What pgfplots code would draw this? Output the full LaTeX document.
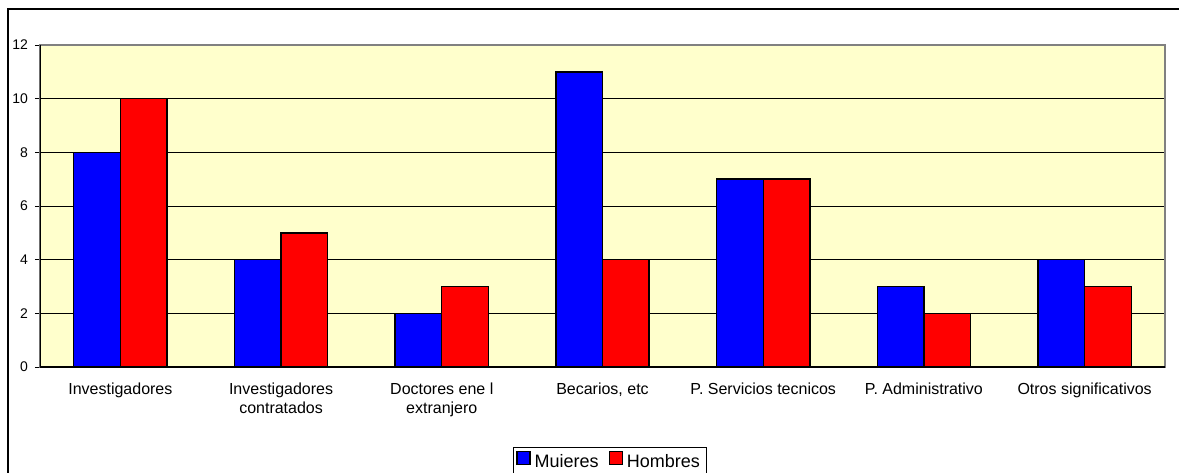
\documentclass[border=0pt]{standalone}
\usepackage{fontspec}
\setmainfont{Liberation Sans}
\usepackage{pgfplots}
\pgfplotsset{compat=1.18}
\definecolor{plotbg}{HTML}{FFFFCC}
\definecolor{barblue}{HTML}{0000FF}
\definecolor{barred}{HTML}{FF0000}
\begin{document}
\begin{tikzpicture}
\useasboundingbox (0pt,0pt) rectangle (589.5pt,236pt);
\draw[line width=0.7pt] (4pt,-10pt) -- (4pt,231.5pt) -- (600pt,231.5pt);
\begin{axis}[
    at={(20pt,52.5pt)}, anchor=south west,
    scale only axis,
    width=562.5pt, height=161pt,
    ybar=0pt,
    bar width=0.29,
    xmin=-0.5, xmax=6.5,
    ymin=0, ymax=12,
    ytick={0,2,...,12},
    xtick={0,...,6},
    xticklabels={Investigadores,Investigadores\\contratados,Doctores ene l\\extranjero,{Becarios, etc},P. Servicios tecnicos,P. Administrativo,Otros significativos},
    minor xtick={-0.5,0.5,...,6.5},
    xtick pos=bottom, ytick pos=left,
    tick align=outside,
    xtick style={draw=none},
    minor tick length=2pt,
    major tick length=2.5pt,
    tick style={black, line width=0.5pt},
    xticklabel style={font=\fontsize{8}{9.5}\selectfont, align=center, yshift=-2pt},
    yticklabel style={font=\fontsize{7}{8}\selectfont},
    /pgf/number format/assume math mode=true,
    ymajorgrids,
    grid style={black, line width=0.4pt},
    axis line style={draw=gray, line width=1pt},
    axis background/.style={fill=plotbg},
    legend style={at={(0.5067,-0.2484)}, anchor=north, legend columns=2,
        font=\fontsize{9}{10}\selectfont, draw=black, line width=0.5pt,
        inner sep=1.5pt, /tikz/every even column/.append style={column sep=3pt}},
    legend image code/.code={\draw[#1, draw=black, line width=0.7pt] (0pt,-1pt) rectangle (6.5pt,5.5pt);},
]
\addplot[fill=barblue, draw=black, line width=0.7pt, bar shift=-0.145]
    coordinates {(0,8) (1,4) (2,2) (3,11) (4,7) (5,3) (6,4)};
\addplot[fill=barred, draw=black, line width=0.7pt, bar shift=0.145]
    coordinates {(0,10) (1,5) (2,3) (3,4) (4,7) (5,2) (6,3)};
\legend{Muieres,Hombres}
\draw[black, line width=0.7pt] (rel axis cs:0,1) -- (rel axis cs:0,0) -- (rel axis cs:1,0);
\end{axis}
\end{tikzpicture}
\end{document}
